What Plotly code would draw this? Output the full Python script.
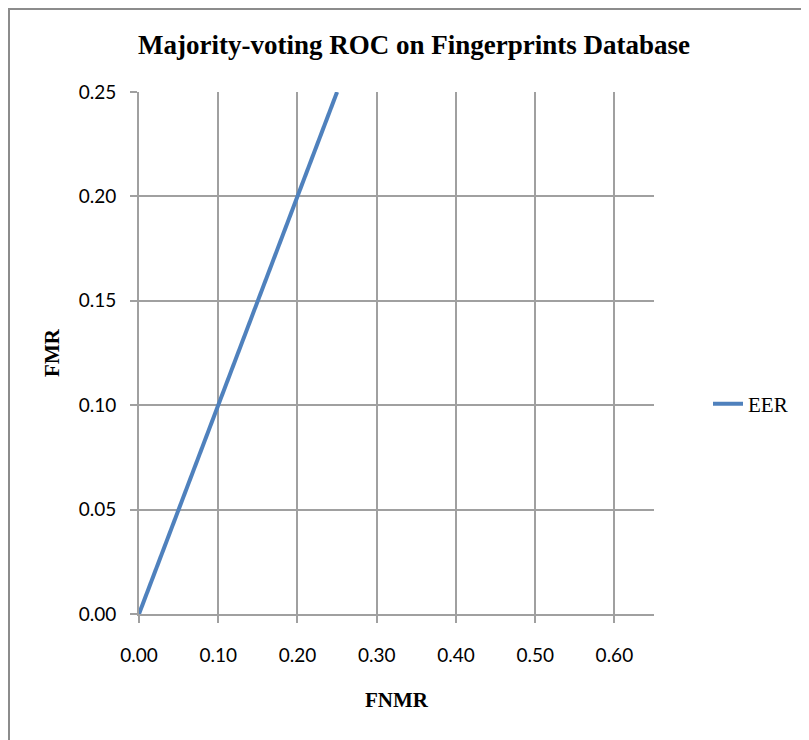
import plotly.graph_objects as go

fnmr = [0.0, 0.05, 0.10, 0.15, 0.20, 0.25]
fmr = [0.0, 0.05, 0.10, 0.15, 0.20, 0.25]
series_name = "EER"
x_ticks = [0.0, 0.1, 0.2, 0.3, 0.4, 0.5, 0.6]
y_ticks = [0.0, 0.05, 0.10, 0.15, 0.20, 0.25]

fig = go.Figure()
fig.add_trace(go.Scatter(x=fnmr, y=fmr, mode="lines", name=series_name,
                         line=dict(color="#4F81BD", width=4)))

OFF = 8  # page body margin
L, T = 139 - OFF, 92 - OFF
pw, ph = 515, 522
R, B = 809 - L - pw, 740 - T - ph
bottom = T + ph

grid = "#a0a0a0"
fig.update_layout(
    width=809, height=740,
    margin=dict(l=L, r=R, t=T, b=B),
    paper_bgcolor="white", plot_bgcolor="white",
    title=dict(text="<b>Majority-voting ROC on Fingerprints Database</b>",
               x=(414 - OFF) / 809, xanchor="center", y=1 - (45 - OFF) / 740, yanchor="middle",
               font=dict(family="Liberation Serif", size=27, color="black")),
    showlegend=True,
    legend=dict(x=(700 - L) / pw, xanchor="left", y=(bottom - (404 - OFF)) / ph, yanchor="middle",
                font=dict(family="Liberation Serif", size=21, color="black"),
                bgcolor="rgba(0,0,0,0)"),
    xaxis=dict(range=[0, 0.65], tickvals=x_ticks, tickformat=".2f",
               showgrid=True, gridcolor=grid, gridwidth=1.5,
               showline=True, linecolor=grid, linewidth=2,
               ticks="outside", ticklen=7, tickcolor=grid, tickwidth=1.5,
               ticklabelstandoff=16, zeroline=False,
               tickfont=dict(family="Lato", size=19, color="black"),
               title=dict(text="<b>FNMR</b>", standoff=28,
                          font=dict(family="Liberation Serif", size=21, color="black"))),
    yaxis=dict(range=[0, 0.25], tickvals=y_ticks, tickformat=".2f",
               showgrid=True, gridcolor=grid, gridwidth=1.5,
               showline=True, linecolor=grid, linewidth=2,
               ticks="outside", ticklen=7, tickcolor=grid, tickwidth=1.5,
               ticklabelstandoff=10, zeroline=False,
               tickfont=dict(family="Lato", size=19, color="black"),
               title=dict(text="<b>FMR</b>", standoff=13,
                          font=dict(family="Liberation Serif", size=21, color="black"))),
)

fig.add_shape(type="rect", xref="paper", yref="paper",
              x0=(1 - L) / pw, x1=(830 - L) / pw,
              y0=(bottom - 760) / ph, y1=(bottom - 1) / ph,
              line=dict(color="#8c8c8c", width=2), fillcolor="rgba(0,0,0,0)", layer="below")

fig.write_html("out.html")
